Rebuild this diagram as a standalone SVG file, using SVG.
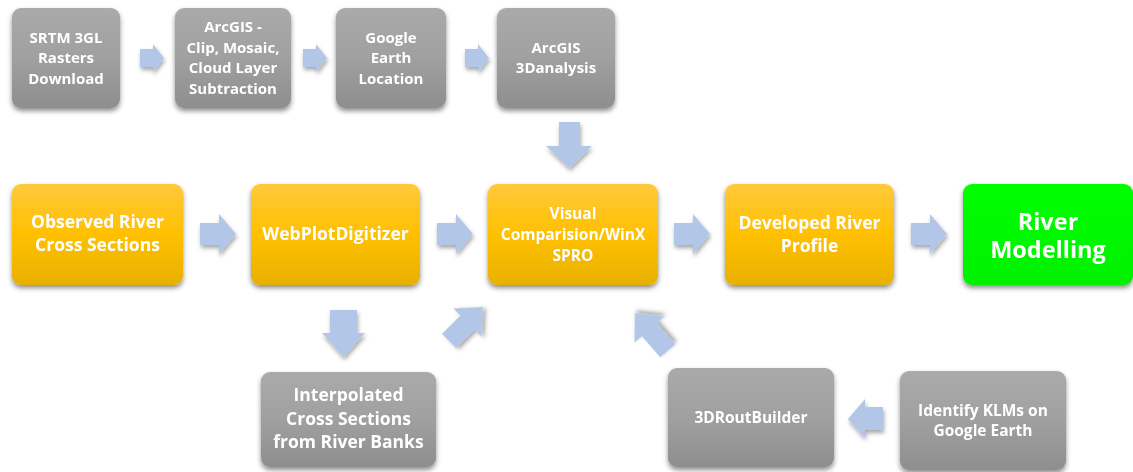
<svg xmlns="http://www.w3.org/2000/svg" width="1133" height="472" viewBox="0 0 1133 472">
  <defs>
    <linearGradient id="gGray" x1="0" y1="0" x2="0" y2="1">
      <stop offset="0" stop-color="#AAAAAA"/>
      <stop offset="0.5" stop-color="#A0A0A0"/>
      <stop offset="1" stop-color="#8E8E8E"/>
    </linearGradient>
    <linearGradient id="gOrange" x1="0" y1="0" x2="0" y2="1">
      <stop offset="0" stop-color="#FFC93C"/>
      <stop offset="0.5" stop-color="#FFC000"/>
      <stop offset="1" stop-color="#E8B000"/>
    </linearGradient>
    <linearGradient id="gGreen" x1="0" y1="0" x2="0" y2="1">
      <stop offset="0" stop-color="#00FF00"/>
      <stop offset="1" stop-color="#00F000"/>
    </linearGradient>
    <filter id="shadow" x="-20%" y="-20%" width="140%" height="150%">
      <feDropShadow dx="0" dy="3" stdDeviation="2.5" flood-color="#000" flood-opacity="0.45"/>
    </filter>
    <filter id="ashadow" x="-40%" y="-40%" width="180%" height="180%">
      <feDropShadow dx="1" dy="3" stdDeviation="2" flood-color="#000" flood-opacity="0.35"/>
    </filter>
  </defs>
  <style>
    .box { filter: url(#shadow); }
    .gray { fill: url(#gGray); }
    .orange { fill: url(#gOrange); }
    .green { fill: url(#gGreen); }
    .arrow { fill: #B2C6E8; filter: url(#ashadow); }
    text { font-family: "Open Sans", "Liberation Sans", sans-serif; font-weight: 700; fill: #FFFFFF; text-anchor: middle; }
    .t14 { font-size: 15px; }
    .t15 { font-size: 15.5px; }
    .t17 { font-size: 17.5px; }
    .t26 { font-size: 23.5px; }
  </style>

  <rect width="1133" height="472" fill="#FFFFFF"/>

  <!-- connectors -->
  <g id="connectors">
    <!-- top row, pointing right -->
    <path class="arrow" d="M140,49 H153 V44 L164,58 L153,72 V67 H140 Z"/>
    <path class="arrow" d="M303,49 H316 V44 L327,58 L316,72 V67 H303 Z"/>
    <path class="arrow" d="M465,49 H478 V44 L489,58 L478,72 V67 H465 Z"/>
    <!-- down from ArcGIS 3Danalysis -->
    <path class="arrow" d="M559,122 H580 V146 H592 L569.5,168 L546,146 H559 Z"/>
    <!-- middle row, pointing right -->
    <path class="arrow" d="M200,223 H219 V214 L236,234 L219,254 V245 H200 Z"/>
    <path class="arrow" d="M437,223 H456 V214 L473,234 L456,254 V245 H437 Z"/>
    <path class="arrow" d="M674,223 H693 V214 L710,234 L693,254 V245 H674 Z"/>
    <path class="arrow" d="M911,223 H930 V214 L947,234 L930,254 V245 H911 Z"/>
    <!-- down to Interpolated -->
    <path class="arrow" d="M330,310 H357 V333 H365 L343.5,357 L322,333 H330 Z"/>
    <!-- up-right into Visual Comparision -->
    <path class="arrow" transform="translate(483,307) rotate(-45)" d="M0,0 L-22,-20 V-10 H-48 V10 H-22 V20 Z"/>
    <!-- up-left into Visual Comparision -->
    <path class="arrow" transform="translate(635,313) rotate(-131)" d="M0,0 L-22,-20 V-10 H-50 V10 H-22 V20 Z"/>
    <!-- left, from Identify KLMs -->
    <path class="arrow" d="M883,407 H865 V399 L848,419 L865,438 V430 H883 Z"/>
  </g>

  <!-- top row -->
  <g id="srtm" class="box">
    <rect class="gray" x="12" y="8" width="108" height="100" rx="9"/>
    <text class="t14" x="66" y="42.5">SRTM 3GL</text>
    <text class="t14" x="66" y="63">Rasters</text>
    <text class="t14" x="66" y="83.5">Download</text>
  </g>
  <g id="arcgis-clip" class="box">
    <rect class="gray" x="175" y="8" width="116" height="100" rx="9"/>
    <text class="t14" x="233" y="32">ArcGIS -</text>
    <text class="t14" x="233" y="52.5">Clip, Mosaic,</text>
    <text class="t14" x="233" y="73">Cloud Layer</text>
    <text class="t14" x="233" y="93.5">Subtraction</text>
  </g>
  <g id="google-earth" class="box">
    <rect class="gray" x="336" y="8" width="110" height="100" rx="9"/>
    <text class="t14" x="391" y="42.5">Google</text>
    <text class="t14" x="391" y="63">Earth</text>
    <text class="t14" x="391" y="83.5">Location</text>
  </g>
  <g id="arcgis-3d" class="box">
    <rect class="gray" x="497" y="8" width="118" height="100" rx="9"/>
    <text class="t14" x="556" y="52.5">ArcGIS</text>
    <text class="t14" x="556" y="73">3Danalysis</text>
  </g>

  <!-- middle row -->
  <g id="observed" class="box">
    <rect class="orange" x="12" y="184" width="171" height="101" rx="9"/>
    <text class="t17" x="97.5" y="228">Observed River</text>
    <text class="t17" x="97.5" y="251">Cross Sections</text>
  </g>
  <g id="webplot" class="box">
    <rect class="orange" x="251" y="184" width="169" height="101" rx="9"/>
    <text class="t17" x="335.5" y="240">WebPlotDigitizer</text>
  </g>
  <g id="visual" class="box">
    <rect class="orange" x="488" y="184" width="170" height="101" rx="9"/>
    <text class="t15" x="573" y="218.5">Visual</text>
    <text class="t15" x="573" y="239.5">Comparision/WinX</text>
    <text class="t15" x="573" y="260.5">SPRO</text>
  </g>
  <g id="developed" class="box">
    <rect class="orange" x="725" y="184" width="169" height="101" rx="9"/>
    <text class="t17" x="809.5" y="229">Developed River</text>
    <text class="t17" x="809.5" y="252">Profile</text>
  </g>
  <g id="river-modelling" class="box">
    <rect class="green" x="963" y="184" width="170" height="101" rx="9"/>
    <text class="t26" x="1048" y="229.5">River</text>
    <text class="t26" x="1048" y="258">Modelling</text>
  </g>

  <!-- bottom row -->
  <g id="interpolated" class="box">
    <rect class="gray" x="261" y="372" width="175" height="95" rx="9"/>
    <text class="t17" x="348.5" y="401">Interpolated</text>
    <text class="t17" x="348.5" y="425">Cross Sections</text>
    <text class="t17" x="348.5" y="448">from River Banks</text>
  </g>
  <g id="routbuilder" class="box">
    <rect class="gray" x="668" y="368" width="166" height="99" rx="9"/>
    <text class="t15" x="751" y="422.5">3DRoutBuilder</text>
  </g>
  <g id="identify" class="box">
    <rect class="gray" x="900" y="371" width="166" height="99" rx="9"/>
    <text class="t15" x="983" y="415.5">Identify KLMs on</text>
    <text class="t15" x="983" y="436">Google Earth</text>
  </g>
</svg>
